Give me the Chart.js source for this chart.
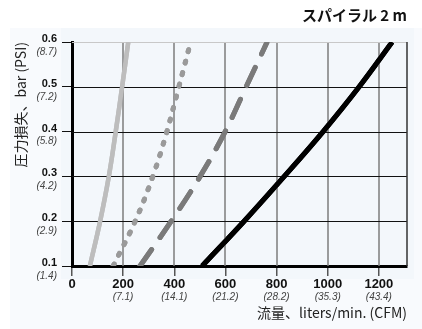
<!DOCTYPE html>
<html>
<head>
<meta charset="utf-8">
<script src="https://cdn.jsdelivr.net/npm/chart.js@4/dist/chart.umd.min.js"></script>
<style>
	html, body { margin: 0; padding: 0; background: #ffffff; }
	#wrap { width: 422px; height: 329px; }
</style>
</head>
<body>
<div id="wrap"><canvas id="chart" width="422" height="329"></canvas></div>
<script>
// tick values and the secondary (imperial) labels under them
const flowTicks = [0, 200, 400, 600, 800, 1000, 1200];
const cfmLabels = ['', '(7.1)', '(14.1)', '(21.2)', '(28.2)', '(35.3)', '(43.4)'];
const pressureTicks = [0.1, 0.2, 0.3, 0.4, 0.5, 0.6];
const psiLabels = ['(1.4)', '(2.9)', '(4.2)', '(5.8)', '(7.2)', '(8.7)'];

// pressure loss (bar) against flow (liters/min.), one flow list per curve
const pressure = [0.1, 0.2, 0.3, 0.4, 0.5, 0.6];
const flowLight = [70, 110, 144, 171, 196, 220];
const flowDotted = [161, 247, 316, 371, 418, 464];
const flowDashed = [266, 388, 501, 599, 681, 763];
const flowBlack = [509, 673, 830, 982, 1123, 1252];

const chartTitle = 'スパイラル 2 m';
const xTitle = '流量、liters/min. (CFM)';
const yTitle = '圧力損失、bar (PSI)';

const cjkFont = '"Noto Sans CJK JP", "Noto Sans", sans-serif';
const numFont = '"Liberation Sans", Arial, sans-serif';

function points(flows) {
	return flows.map((f, i) => ({ x: f, y: pressure[i] }));
}

// light panel behind the plot
const panelPlugin = {
	id: 'panel',
	beforeDraw(chart) {
		const ctx = chart.ctx;
		ctx.save();
		ctx.fillStyle = '#f8fafd';
		ctx.fillRect(10, 28, chart.width - 10, chart.height - 28);
		ctx.fillStyle = '#f3f7fb';
		ctx.fillRect(61, 28, 353, 251);
		ctx.restore();
	}
};

// grid lines, then the curves again on top of them
const gridPlugin = {
	id: 'plotGrid',
	afterDraw(chart) {
		const ctx = chart.ctx;
		const area = chart.chartArea;
		const xs = chart.scales.x;
		const ys = chart.scales.y;
		ctx.save();
		ctx.setLineDash([]);
		ctx.lineWidth = 1.5;
		ctx.strokeStyle = '#7c7c7c';
		flowTicks.slice(1).forEach((v) => {
			const px = Math.round(xs.getPixelForValue(v));
			ctx.beginPath();
			ctx.moveTo(px, area.top);
			ctx.lineTo(px, area.bottom);
			ctx.stroke();
		});
		ctx.lineWidth = 1;
		pressureTicks.slice(1).forEach((v, i) => {
			const py = Math.round(ys.getPixelForValue(v)) + 0.5;
			ctx.strokeStyle = (i === pressureTicks.length - 2) ? '#c8c8c8' : '#111';
			ctx.beginPath();
			ctx.moveTo(area.left, py);
			ctx.lineTo(area.right, py);
			ctx.stroke();
		});
		ctx.restore();

		ctx.save();
		ctx.beginPath();
		ctx.rect(area.left, area.top, area.right - area.left, area.bottom - area.top);
		ctx.clip();
		chart.getSortedVisibleDatasetMetas().forEach((meta) => meta.controller.draw());
		ctx.restore();
	}
};

// italic second line of tick labels + right border
const subLabelPlugin = {
	id: 'subLabels',
	afterDraw(chart) {
		const ctx = chart.ctx;
		const area = chart.chartArea;
		const xs = chart.scales.x;
		const ys = chart.scales.y;
		ctx.save();
		ctx.strokeStyle = '#333';
		ctx.lineWidth = 1.5;
		ctx.beginPath();
		ctx.moveTo(area.right, area.top);
		ctx.lineTo(area.right, area.bottom);
		ctx.stroke();

		ctx.fillStyle = '#444';
		ctx.font = 'italic 10px ' + numFont;
		ctx.textAlign = 'center';
		ctx.textBaseline = 'middle';
		flowTicks.forEach((v, i) => {
			ctx.fillText(cfmLabels[i], xs.getPixelForValue(v), area.bottom + 31);
		});
		ctx.textAlign = 'right';
		pressureTicks.forEach((v, i) => {
			ctx.fillText(psiLabels[i], area.left - 15, ys.getPixelForValue(v) + 10);
		});
		ctx.restore();
	}
};

new Chart(document.getElementById('chart'), {
	type: 'line',
	data: {
		datasets: [
			{
				data: points(flowLight),
				borderColor: '#bdbdbd',
				borderWidth: 4.5
			},
			{
				data: points(flowDotted),
				borderColor: '#9a9a9a',
				borderWidth: 5,
				borderDash: [2, 10],
				borderCapStyle: 'round'
			},
			{
				data: points(flowDashed),
				borderColor: '#7a7a7a',
				borderWidth: 5,
				borderDash: [20, 15],
				borderCapStyle: 'round'
			},
			{
				data: points(flowBlack),
				borderColor: '#000000',
				borderWidth: 5
			}
		]
	},
	options: {
		responsive: false,
		animation: false,
		devicePixelRatio: 1,
		layout: { padding: { left: 10, right: 15, top: 0, bottom: 4 } },
		elements: {
			point: { radius: 0, hoverRadius: 0 },
			line: { tension: 0.4 }
		},
		scales: {
			x: {
				type: 'linear',
				min: 0,
				max: 1310,
				afterBuildTicks: (scale) => {
					scale.ticks = flowTicks.map((v) => ({ value: v }));
				},
				afterFit: (scale) => { scale.height = 59; },
				border: { color: '#000', width: 3 },
				grid: {
					drawOnChartArea: false,
					color: '#555',
					lineWidth: 1.5,
					tickLength: 10
				},
				ticks: {
					color: '#111',
					padding: 1,
					maxRotation: 0,
					autoSkip: false,
					font: { family: numFont, size: 13, weight: 'bold' },
					callback: (v) => String(v)
				},
				title: {
					display: true,
					text: xTitle,
					align: 'end',
					color: '#222',
					font: { family: cjkFont, size: 14 },
					padding: { top: 0, bottom: 4 }
				}
			},
			y: {
				type: 'linear',
				min: 0.1,
				max: 0.6,
				afterBuildTicks: (scale) => {
					scale.ticks = pressureTicks.map((v) => ({ value: v }));
				},
				afterFit: (scale) => { scale.width = 62; },
				border: { color: '#000', width: 3 },
				grid: {
					drawOnChartArea: false,
					color: '#111',
					lineWidth: 1,
					tickLength: 10
				},
				ticks: {
					color: '#111',
					padding: 5,
					labelOffset: -3,
					autoSkip: false,
					font: { family: numFont, size: 11, weight: 'bold' },
					callback: (v) => v.toFixed(1)
				},
				title: {
					display: true,
					text: yTitle,
					align: 'end',
					color: '#222',
					font: { family: cjkFont, size: 14 },
					padding: { top: 2, bottom: 0 }
				}
			}
		},
		plugins: {
			legend: { display: false },
			tooltip: { enabled: false },
			title: {
				display: true,
				text: chartTitle,
				align: 'end',
				color: '#111',
				font: { family: cjkFont, size: 15, weight: 'bold' },
				padding: { top: 6, bottom: 18 }
			}
		}
	},
	plugins: [panelPlugin, gridPlugin, subLabelPlugin]
});
</script>
</body>
</html>
